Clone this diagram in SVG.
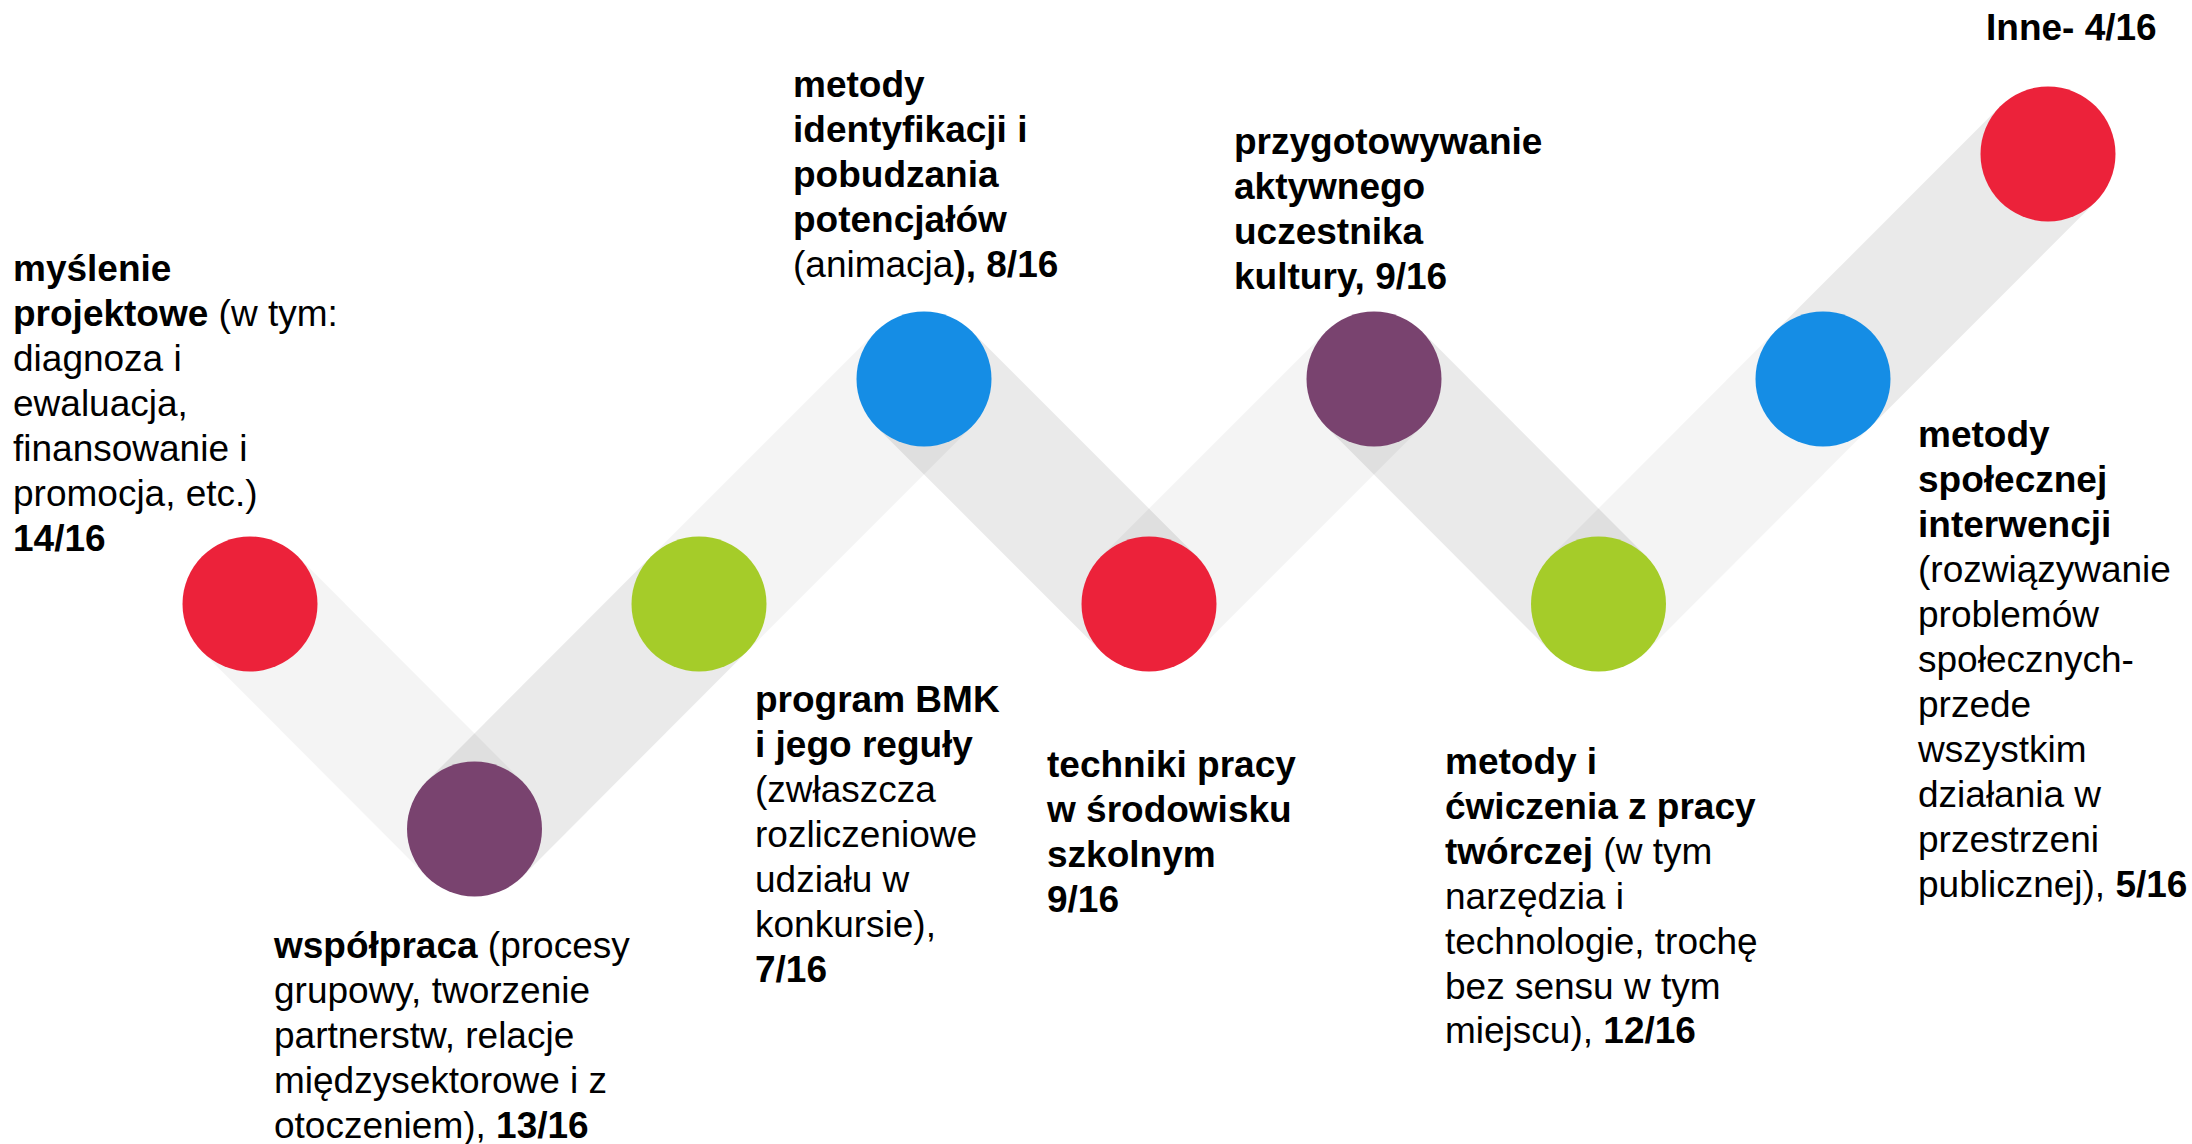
<svg xmlns="http://www.w3.org/2000/svg" width="2192" height="1144" viewBox="0 0 2192 1144">
<style>
text{font-family:"Liberation Sans",Arial,sans-serif;font-size:37px;fill:#000}
.b{font-weight:bold}
.band{stroke:#000;stroke-width:135;stroke-linecap:butt;fill:none}
.lt{stroke-opacity:0.043}
.dk{stroke-opacity:0.082}
.red{fill:#EC223A}.pur{fill:#79436F}.grn{fill:#A5CC29}.blu{fill:#158DE5}
</style>
<rect width="2192" height="1144" fill="#fff"/>
<g id="connectors">
<line class="band lt" x1="250" y1="604" x2="474.5" y2="829"/>
<line class="band dk" x1="474.5" y1="829" x2="699" y2="604"/>
<line class="band lt" x1="699" y1="604" x2="924" y2="379"/>
<line class="band dk" x1="924" y1="379" x2="1149" y2="604"/>
<line class="band lt" x1="1149" y1="604" x2="1374" y2="379"/>
<line class="band dk" x1="1374" y1="379" x2="1598.5" y2="604"/>
<line class="band lt" x1="1598.5" y1="604" x2="1823" y2="379"/>
<line class="band dk" x1="1823" y1="379" x2="2048" y2="154"/>
</g>
<g id="node1">
<circle class="red" cx="250" cy="604" r="67.5"/>
<text x="13" y="281"><tspan class="b">myślenie</tspan></text>
<text x="13" y="326"><tspan class="b">projektowe</tspan> (w tym:</text>
<text x="13" y="371">diagnoza i</text>
<text x="13" y="416">ewaluacja,</text>
<text x="13" y="461">finansowanie i</text>
<text x="13" y="506">promocja, etc.)</text>
<text x="13" y="551" class="b">14/16</text>
</g>
<g id="node2">
<circle class="pur" cx="474.5" cy="829" r="67.5"/>
<text x="274" y="957.5"><tspan class="b">współpraca</tspan> (procesy</text>
<text x="274" y="1002.5">grupowy, tworzenie</text>
<text x="274" y="1047.5">partnerstw, relacje</text>
<text x="274" y="1092.5">międzysektorowe i z</text>
<text x="274" y="1137.5">otoczeniem), <tspan class="b">13/16</tspan></text>
</g>
<g id="node3">
<circle class="grn" cx="699" cy="604" r="67.5"/>
<text x="755" y="712" class="b">program BMK</text>
<text x="755" y="757" class="b">i jego reguły</text>
<text x="755" y="802">(zwłaszcza</text>
<text x="755" y="847">rozliczeniowe</text>
<text x="755" y="892">udziału w</text>
<text x="755" y="937">konkursie),</text>
<text x="755" y="982" class="b">7/16</text>
</g>
<g id="node4">
<circle class="blu" cx="924" cy="379" r="67.5"/>
<text x="793" y="97" class="b">metody</text>
<text x="793" y="142" class="b">identyfikacji i</text>
<text x="793" y="187" class="b">pobudzania</text>
<text x="793" y="232" class="b">potencjałów</text>
<text x="793" y="277">(animacja<tspan class="b">), 8/16</tspan></text>
</g>
<g id="node5">
<circle class="red" cx="1149" cy="604" r="67.5"/>
<text x="1047" y="777" class="b">techniki pracy</text>
<text x="1047" y="822" class="b">w środowisku</text>
<text x="1047" y="867" class="b">szkolnym</text>
<text x="1047" y="912" class="b">9/16</text>
</g>
<g id="node6">
<circle class="pur" cx="1374" cy="379" r="67.5"/>
<text x="1234" y="154" class="b">przygotowywanie</text>
<text x="1234" y="199" class="b">aktywnego</text>
<text x="1234" y="244" class="b">uczestnika</text>
<text x="1234" y="289" class="b">kultury, 9/16</text>
</g>
<g id="node7">
<circle class="grn" cx="1598.5" cy="604" r="67.5"/>
<text x="1445" y="774" class="b">metody i</text>
<text x="1445" y="819" class="b">ćwiczenia z pracy</text>
<text x="1445" y="864"><tspan class="b">twórczej</tspan> (w tym</text>
<text x="1445" y="909">narzędzia i</text>
<text x="1445" y="954">technologie, trochę</text>
<text x="1445" y="999">bez sensu w tym</text>
<text x="1445" y="1043">miejscu), <tspan class="b">12/16</tspan></text>
</g>
<g id="node8">
<circle class="blu" cx="1823" cy="379" r="67.5"/>
<text x="1918" y="447" class="b">metody</text>
<text x="1918" y="492" class="b">społecznej</text>
<text x="1918" y="537" class="b">interwencji</text>
<text x="1918" y="582">(rozwiązywanie</text>
<text x="1918" y="627">problemów</text>
<text x="1918" y="672">społecznych-</text>
<text x="1918" y="717">przede</text>
<text x="1918" y="762">wszystkim</text>
<text x="1918" y="807">działania w</text>
<text x="1918" y="852">przestrzeni</text>
<text x="1918" y="897">publicznej), <tspan class="b">5/16</tspan></text>
</g>
<g id="node9">
<circle class="red" cx="2048" cy="154" r="67.5"/>
<text x="1986" y="40" class="b">Inne- 4/16</text>
</g>
</svg>
